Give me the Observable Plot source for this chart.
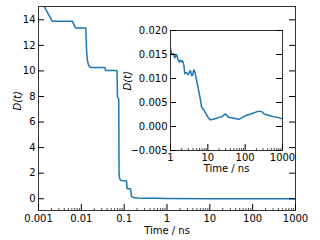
<!DOCTYPE html>
<html><head><meta charset="utf-8">
<script src="https://cdn.jsdelivr.net/npm/d3@7"></script>
<script src="https://cdn.jsdelivr.net/npm/@observablehq/plot@0.6"></script>
<style>
html,body{margin:0;padding:0;background:#fff;}
#wrap{position:relative;width:320px;height:240px;overflow:hidden;font-family:"DejaVu Sans";}
#wrap svg{position:absolute;}
</style></head><body><div id="wrap"></div>
<script>
// main curve: time (ns) and D(t)
const mainTime = [0.001, 0.00133, 0.00209, 0.0062, 0.0073, 0.0127, 0.0133, 0.0139, 0.0147, 0.0164, 0.0353, 0.0367, 0.0681, 0.0698, 0.0718, 0.0747, 0.0760, 0.0780, 0.0830, 0.0900, 0.1135, 0.1177, 0.1406, 0.148, 0.165, 0.205, 0.3, 0.5, 1, 10, 100, 1000];
const mainD    = [15.9, 15.1, 13.88, 13.88, 13.36, 13.36, 11.5, 10.8, 10.45, 10.27, 10.27, 10.04, 10.04, 8.0, 7.9, 7.8, 2.0, 1.6, 1.45, 1.40, 1.38, 0.78, 0.78, 0.18, 0.10, 0.06, 0.04, 0.03, 0.016, 0.002, 0.002, 0.0015];

// inset curve
const insetTime = [1, 1.08, 1.18, 1.3, 1.45, 1.58, 1.71, 1.85, 2.0, 2.1, 2.28, 2.42, 2.7, 2.99, 3.2, 3.44, 3.65, 3.9, 4.2, 4.5, 4.99, 5.54, 6.12, 6.8, 7.56, 8.34, 9.26, 10.2, 11.4, 14, 17.2, 20, 23.4, 27, 30, 33, 36.8, 43, 50.1, 58, 68.3, 80, 93, 115, 141, 192, 250, 290, 321, 400, 485, 600, 734, 1000];
const insetD    = [0.0162, 0.0150, 0.0152, 0.0143, 0.0150, 0.0140, 0.0134, 0.0138, 0.0135, 0.0137, 0.0128, 0.0110, 0.0112, 0.0108, 0.0114, 0.0116, 0.0106, 0.0107, 0.0118, 0.0114, 0.0097, 0.0079, 0.0062, 0.0041, 0.0036, 0.0031, 0.0024, 0.0019, 0.0014, 0.0015, 0.0017, 0.0019, 0.0020, 0.0024, 0.0026, 0.0022, 0.0019, 0.0018, 0.0017, 0.0016, 0.0015, 0.0018, 0.0021, 0.0024, 0.0026, 0.0030, 0.0032, 0.0030, 0.0026, 0.0024, 0.0022, 0.0020, 0.0019, 0.0016];

// ticks
const mainXTicks  = [0.001, 0.01, 0.1, 1, 10, 100, 1000];
const mainXLabels = ["0.001", "0.01", "0.1", "1", "10", "100", "1000"];
const mainYTicks  = [0, 2, 4, 6, 8, 10, 12, 14];
const insetXTicks  = [1, 10, 100, 1000];
const insetXLabels = ["1", "10", "100", "1000"];
const insetYTicks  = [-0.005, 0, 0.005, 0.01, 0.015, 0.02];
const insetYLabels = ["\u22120.005", "0.000", "0.005", "0.010", "0.015", "0.020"];

const xLabel = "Time / ns";
const yLabel = "D(t)";
const lineColor = "#1f77b4";

function minors(lo, hi){ const out=[]; for(let e=lo;e<hi;e++) for(let k=2;k<10;k++) out.push(+(k*Math.pow(10,e)).toPrecision(6)); return out; }

const style = {fontSize:"10px", fontFamily:"DejaVu Sans", color:"black", background:"transparent", overflow:"visible"};
const wrap = document.getElementById("wrap");

// ---------- main ----------
const W = 320, H = 240;
const mM = {left:38, right:25, top:6, bottom:30};
const pw = W - mM.left - mM.right, ph = H - mM.top - mM.bottom;
const mainData = mainTime.map((t,i)=>({t, d: mainD[i]}));
const main = Plot.plot({
  width: W, height: H,
  marginLeft: mM.left, marginRight: mM.right, marginTop: mM.top, marginBottom: mM.bottom,
  style,
  x: {type:"log", domain:[0.001, 1000]},
  y: {domain:[-0.92, 15.04]},
  marks: [
    Plot.line(mainData, {x:"t", y:"d", stroke: lineColor, strokeWidth: 1.5, clip: true}),
    Plot.frame({stroke:"#333", strokeWidth: 1}),
    Plot.tickX(mainXTicks, {x: d=>d, insetTop: ph-6, stroke:"black", strokeWidth: 1}),
    Plot.tickX(minors(-3,3), {x: d=>d, insetTop: ph-2, stroke:"black", strokeWidth: 0.7}),
    Plot.tickY(mainYTicks, {y: d=>d, insetRight: pw-6, stroke:"black", strokeWidth: 1}),
    Plot.tickY(mainYTicks, {y: d=>d, insetLeft: pw-6, stroke:"black", strokeWidth: 1}),
    Plot.axisX(mainXTicks, {tickSize:0, tickPadding:4, tickFormat: d=>mainXLabels[mainXTicks.indexOf(d)], label:null}),
    Plot.axisY(mainYTicks, {tickSize:0, tickPadding:3, tickFormat: d=>String(d), label:null}),
    Plot.text([xLabel], {frameAnchor:"bottom", dy: 23, text: d=>d, fontSize: 10}),
    Plot.text([yLabel], {frameAnchor:"left", dx: -21, dy: 2, rotate: -90, text: d=>d, fontSize: 10, fontStyle:"italic"})
  ]
});
main.style.left = "0px"; main.style.top = "0px";
wrap.appendChild(main);

// ---------- inset ----------
const IW = 180, IH = 165;
const iM = {left:60, right:8, top:10, bottom:35};
const ipw = IW - iM.left - iM.right, iph = IH - iM.top - iM.bottom;
const insetData = insetTime.map((t,i)=>({t, d: insetD[i]}));
const inset = Plot.plot({
  width: IW, height: IH,
  marginLeft: iM.left, marginRight: iM.right, marginTop: iM.top, marginBottom: iM.bottom,
  style,
  x: {type:"log", domain:[1, 1000]},
  y: {domain:[-0.005, 0.020]},
  marks: [
    Plot.frame({fill:"white", stroke:null}),
    Plot.line(insetData, {x:"t", y:"d", stroke: lineColor, strokeWidth: 1.5, clip: true}),
    Plot.frame({stroke:"#333", strokeWidth: 1}),
    Plot.tickX(insetXTicks, {x: d=>d, insetTop: iph-6, stroke:"black", strokeWidth: 1}),
    Plot.tickX(minors(0,3), {x: d=>d, insetTop: iph-2, stroke:"black", strokeWidth: 0.7}),
    Plot.tickY(insetYTicks, {y: d=>d, insetRight: ipw-6, stroke:"black", strokeWidth: 1}),
    Plot.tickY(insetYTicks, {y: d=>d, insetLeft: ipw-6, stroke:"black", strokeWidth: 1}),
    Plot.axisX(insetXTicks, {tickSize:0, tickPadding:3, tickFormat: d=>insetXLabels[insetXTicks.indexOf(d)], label:null}),
    Plot.axisY(insetYTicks, {tickSize:0, tickPadding:3, tickFormat: d=>insetYLabels[insetYTicks.indexOf(d)], label:null}),
    Plot.text([xLabel], {frameAnchor:"bottom", dy: 21, text: d=>d, fontSize: 10}),
    Plot.text([yLabel], {frameAnchor:"left", dx: -43, rotate: -90, text: d=>d, fontSize: 10, fontStyle:"italic"})
  ]
});
inset.style.left = "110px"; inset.style.top = "20px";
wrap.appendChild(inset);
</script>
</body></html>
